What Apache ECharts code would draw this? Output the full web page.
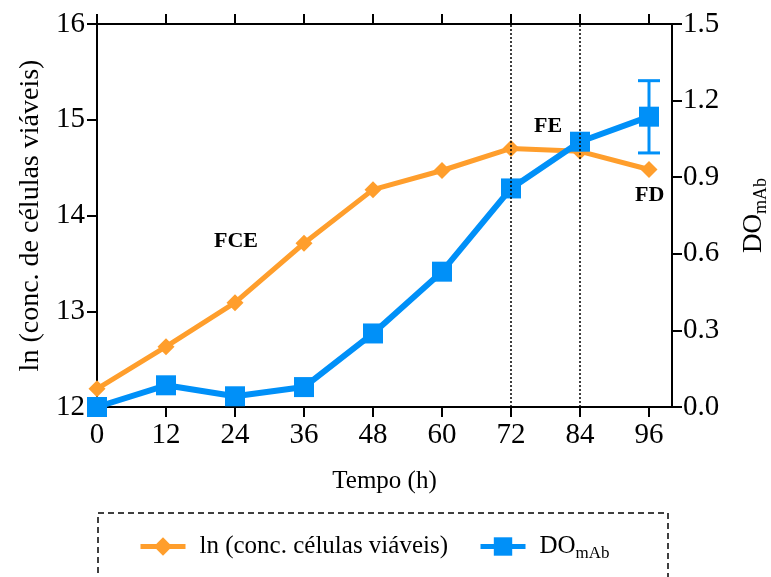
<!DOCTYPE html>
<html>
<head>
<meta charset="utf-8">
<script src="https://cdn.jsdelivr.net/npm/echarts@6/dist/echarts.min.js"></script>
<style>
  html, body { margin: 0; padding: 0; background: #fff; }
  #chart { width: 771px; height: 577px; }
</style>
</head>
<body>
<div id="chart"></div>
<script>
// tempo de cultivo (h)
const horas = [0, 12, 24, 36, 48, 60, 72, 84, 96];
// ln (conc. células viáveis)
const lnCelulas = [12.19, 12.63, 13.09, 13.71, 14.27, 14.47, 14.70, 14.67, 14.48];
// DO mAb
const doMab = [0.0, 0.085, 0.042, 0.078, 0.288, 0.53, 0.856, 1.039, 1.137];
// barra de erro em 96 h: [x, inferior, superior]
const erroDo = [[96, 0.995, 1.278]];
const faseLinhas = [72, 84];
const xTicks = [0, 12, 24, 36, 48, 60, 72, 84, 96];

const serif = 'Liberation Serif';
const laranja = '#FF9E2C';
const azul = '#0090F8';

const chart = echarts.init(document.getElementById('chart'));

chart.setOption({
  animation: false,
  textStyle: { fontFamily: serif, color: '#000' },
  grid: { left: 97, right: 99, top: 24, bottom: 170, outerBoundsMode: 'none' },
  legend: {
    left: 133,
    top: 529,
    itemWidth: 45,
    itemHeight: 23,
    itemGap: 30,
    data: ['ln', 'DO'],
    lineStyle: { width: 5 },
    formatter: function (name) {
      return name === 'ln' ? '{t|ln (conc. células viáveis)}' : '{t|DO}{s|mAb}';
    },
    textStyle: {
      fontFamily: serif,
      color: '#000',
      rich: {
        t: { fontFamily: serif, fontSize: 25, color: '#000', padding: [0, 0, 0, 9] },
        s: { fontFamily: serif, fontSize: 17, color: '#000', verticalAlign: 'bottom', padding: [14, 0, 0, 0] }
      }
    }
  },
  xAxis: [
    {
      type: 'value',
      position: 'bottom',
      min: 0,
      max: 100,
      interval: 12,
      name: 'Tempo (h)',
      nameLocation: 'middle',
      nameGap: 62,
      nameTextStyle: { fontFamily: serif, fontSize: 25, color: '#000' },
      axisLine: { onZero: false, lineStyle: { color: '#000', width: 2 } },
      axisTick: { show: false },
      axisLabel: {
        fontFamily: serif, fontSize: 29, color: '#000', margin: 14,
        showMaxLabel: false,
        formatter: function (v) { return v > 96 ? '' : String(v); }
      },
      splitLine: { show: false }
    },
    {
      type: 'value',
      position: 'top',
      min: 0,
      max: 100,
      interval: 12,
      axisLine: { onZero: false, lineStyle: { color: '#000', width: 2 } },
      axisTick: { show: true, length: 10, lineStyle: { color: '#000', width: 2 }, customValues: xTicks },
      axisLabel: { show: false },
      splitLine: { show: false }
    }
  ],
  yAxis: [
    {
      type: 'value',
      min: 12,
      max: 16,
      interval: 1,
      name: 'ln (conc. de células viáveis)',
      nameLocation: 'middle',
      nameRotate: 90,
      nameGap: 50,
      nameTextStyle: { fontFamily: serif, fontSize: 28, color: '#000' },
      axisLine: { show: true, onZero: false, lineStyle: { color: '#000', width: 2 } },
      axisTick: { show: true, length: 10, lineStyle: { color: '#000', width: 2 } },
      axisLabel: { fontFamily: serif, fontSize: 29, color: '#000', margin: 12 },
      splitLine: { show: false }
    },
    {
      type: 'value',
      position: 'right',
      min: 0,
      max: 1.5,
      interval: 0.3,
      name: '{t|DO}{s|mAb}',
      nameLocation: 'middle',
      nameRotate: 90,
      nameGap: 66,
      nameTextStyle: {
        fontFamily: serif,
        color: '#000',
        rich: {
          t: { fontFamily: serif, fontSize: 27, color: '#000' },
          s: { fontFamily: serif, fontSize: 18, color: '#000', verticalAlign: 'bottom', padding: [14, 0, 0, 0] }
        }
      },
      axisLine: { show: true, onZero: false, lineStyle: { color: '#000', width: 2 } },
      axisTick: { show: true, length: 10, lineStyle: { color: '#000', width: 2 } },
      axisLabel: {
        fontFamily: serif, fontSize: 29, color: '#000', margin: 11,
        formatter: function (v) { return v.toFixed(1); }
      },
      splitLine: { show: false }
    }
  ],
  series: [
    {
      // marcas do eixo x inferior
      name: 'ticks',
      type: 'custom',
      xAxisIndex: 0,
      yAxisIndex: 0,
      silent: true,
      clip: false,
      data: xTicks.map(v => [v, 12]),
      z: 1,
      renderItem: function (params, api) {
        const p = api.coord([api.value(0), api.value(1)]);
        return {
          type: 'line',
          shape: { x1: p[0], y1: p[1], x2: p[0], y2: p[1] + 10 },
          style: { stroke: '#000', lineWidth: 2 }
        };
      }
    },
    {
      name: 'ln',
      type: 'line',
      yAxisIndex: 0,
      data: horas.map((h, i) => [h, lnCelulas[i]]),
      symbol: 'diamond',
      symbolSize: 17,
      itemStyle: { color: laranja },
      lineStyle: { color: laranja, width: 5 },
      markLine: {
        silent: true,
        symbol: 'none',
        label: { show: false },
        lineStyle: { color: '#000', type: [2, 2], width: 1.5 },
        data: faseLinhas.map(v => ({ xAxis: v }))
      },
      z: 3
    },
    {
      name: 'DO',
      type: 'line',
      yAxisIndex: 1,
      data: horas.map((h, i) => [h, doMab[i]]),
      symbol: 'rect',
      symbolSize: 20,
      itemStyle: { color: azul },
      lineStyle: { color: azul, width: 6 },
      z: 4
    },
    {
      name: 'erro',
      type: 'custom',
      yAxisIndex: 1,
      data: erroDo,
      z: 4,
      renderItem: function (params, api) {
        const x = api.value(0);
        const lo = api.coord([x, api.value(1)]);
        const hi = api.coord([x, api.value(2)]);
        const w = 11;
        const style = { stroke: azul, lineWidth: 3 };
        return {
          type: 'group',
          children: [
            { type: 'line', shape: { x1: lo[0], y1: lo[1], x2: hi[0], y2: hi[1] }, style: style },
            { type: 'line', shape: { x1: lo[0] - w, y1: lo[1], x2: lo[0] + w, y2: lo[1] }, style: style },
            { type: 'line', shape: { x1: hi[0] - w, y1: hi[1], x2: hi[0] + w, y2: hi[1] }, style: style }
          ]
        };
      }
    }
  ],
  graphic: [
    {
      type: 'rect',
      shape: { x: 98, y: 513, width: 570, height: 80 },
      style: { fill: 'none', stroke: '#000', lineWidth: 1.5, lineDash: [6, 4] }
    },
    {
      type: 'text', left: 214, top: 230,
      style: { text: 'FCE', font: 'bold 22px "Liberation Serif"', fill: '#000' }
    },
    {
      type: 'text', left: 534, top: 115,
      style: { text: 'FE', font: 'bold 22px "Liberation Serif"', fill: '#000' }
    },
    {
      type: 'text', left: 635, top: 184,
      style: { text: 'FD', font: 'bold 22px "Liberation Serif"', fill: '#000' }
    }
  ]
});
</script>
</body>
</html>
